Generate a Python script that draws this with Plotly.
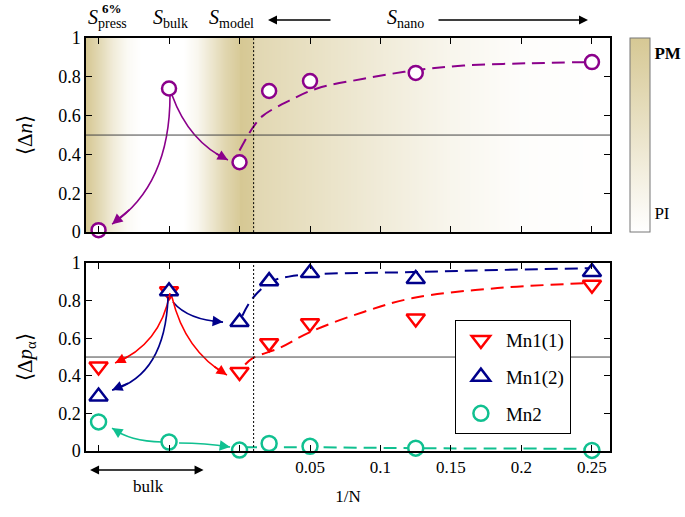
import plotly.graph_objects as go

# ---------------- data ----------------
x_pts = [-0.1, -0.05, 0.0, 0.021, 0.05, 0.125, 0.25]   # press, bulk, model, then 1/N (nano)
dn = [0.01, 0.74, 0.36, 0.727, 0.778, 0.82, 0.876]
mn1_1 = [0.45, 0.85, 0.42, 0.574, 0.68, 0.705, 0.885]
mn1_2 = [0.29, 0.85, 0.686, 0.904, 0.947, 0.915, 0.952]
mn2 = [0.155, 0.048, 0.005, 0.04, 0.025, 0.015, 0.003]

fit_n_x = [0.0, 0.0096, 0.0167, 0.036, 0.055, 0.088, 0.123, 0.159, 0.206, 0.25]
fit_n_y = [0.42, 0.54, 0.60, 0.68, 0.74, 0.79, 0.832, 0.858, 0.87, 0.876]
fit_p1_x = [0.004, 0.0096, 0.029, 0.05, 0.088, 0.123, 0.183, 0.25]
fit_p1_y = [0.46, 0.495, 0.55, 0.633, 0.74, 0.814, 0.867, 0.894]
fit_p2_x = [0.002, 0.009, 0.022, 0.035, 0.05, 0.123, 0.183, 0.25]
fit_p2_y = [0.72, 0.81, 0.90, 0.928, 0.94, 0.952, 0.963, 0.973]
fit_m2_x = [0.003, 0.05, 0.125, 0.25]
fit_m2_y = [0.02, 0.02, 0.015, 0.012]

# background phase map (PI -> PM intensity)
bg_x = [-0.109, -0.1, -0.09, -0.08, -0.07, -0.04, -0.03, -0.02, -0.01, -0.0005,
        0.0005, 0.009, 0.011, 0.05, 0.1, 0.15, 0.2, 0.263]
bg_z = [1.0, 0.7, 0.35, 0.1, 0.0, 0.0, 0.15, 0.45, 0.75, 0.95,
        1.0, 0.95, 0.72, 0.56, 0.36, 0.17, 0.04, 0.0]

x_tickvals = [-0.1, -0.05, 0.0, 0.05, 0.1, 0.15, 0.2, 0.25]
x_ticktext = ["", "", "", "0.05", "0.1", "0.15", "0.2", "0.25"]
y_tickvals = [0, 0.2, 0.4, 0.6, 0.8, 1]

# ---------------- style ----------------
FONT = "Times New Roman, Liberation Serif, serif"
PURPLE = "#8B008B"
RED = "#FF0000"
BLUE = "#00008B"
GREEN = "#10C090"
TAN = "#D6C894"

fig = go.Figure()

fig.add_trace(go.Heatmap(
    x=bg_x, y=[0, 1], z=[bg_z, bg_z], zmin=0, zmax=1, zsmooth="best",
    colorscale=[[0, "#FFFFFF"], [1, TAN]], xaxis="x", yaxis="y",
    hoverinfo="skip", showscale=True,
    colorbar=dict(
        x=1.038, xanchor="left", y=1.0, yanchor="top", len=194 / 413, lenmode="fraction",
        xpad=0, ypad=0,
        thickness=20, outlinecolor="#777", outlinewidth=1, ticks="",
        tickvals=[0.92, 0.1], ticktext=["<b>PM</b>", "PI"],
        tickfont=dict(family=FONT, size=17, color="black"),
    ),
))

def marker(sym, col, size):
    return dict(symbol=sym, size=size, color="white", line=dict(color=col, width=2.5))

DASH = "13px,7px"

# top panel
fig.add_trace(go.Scatter(x=fit_n_x, y=fit_n_y, mode="lines", line=dict(color=PURPLE, width=2, dash=DASH, shape="spline"),
                         xaxis="x", yaxis="y", showlegend=False, cliponaxis=False))
fig.add_trace(go.Scatter(x=x_pts, y=dn, mode="markers", marker=marker("circle", PURPLE, 14),
                         xaxis="x", yaxis="y", showlegend=False, cliponaxis=False))

# bottom panel
fig.add_trace(go.Scatter(x=fit_p1_x, y=fit_p1_y, mode="lines", line=dict(color=RED, width=2, dash=DASH, shape="spline"),
                         xaxis="x2", yaxis="y2", showlegend=False, cliponaxis=False))
fig.add_trace(go.Scatter(x=fit_p2_x, y=fit_p2_y, mode="lines", line=dict(color=BLUE, width=2, dash=DASH, shape="spline"),
                         xaxis="x2", yaxis="y2", showlegend=False, cliponaxis=False))
fig.add_trace(go.Scatter(x=fit_m2_x, y=fit_m2_y, mode="lines", line=dict(color=GREEN, width=2, dash=DASH, shape="spline"),
                         xaxis="x2", yaxis="y2", showlegend=False, cliponaxis=False))
fig.add_trace(go.Scatter(x=x_pts, y=mn1_1, mode="markers", name="Mn1(1)", legendgroup="a",
                         marker=marker("triangle-down", RED, 16), xaxis="x2", yaxis="y2", cliponaxis=False))
fig.add_trace(go.Scatter(x=x_pts, y=mn1_2, mode="markers", name="Mn1(2)", legendgroup="b",
                         marker=marker("triangle-up", BLUE, 16), xaxis="x2", yaxis="y2", cliponaxis=False))
fig.add_trace(go.Scatter(x=x_pts, y=mn2, mode="markers", name="Mn2", legendgroup="c",
                         marker=marker("circle", GREEN, 15), xaxis="x2", yaxis="y2", cliponaxis=False))

# ---------------- curved arrows (quadratic bezier: start, control, end) ----------------
arrows = [
    ("x", "y", PURPLE, (-0.0493, 0.706), (-0.0493, 0.242), (-0.0904, 0.041)),
    ("x", "y", PURPLE, (-0.0479, 0.706), (-0.0358, 0.464), (-0.0082, 0.371)),
    ("x2", "y2", RED, (-0.0493, 0.840), (-0.0564, 0.564), (-0.0883, 0.468)),
    ("x2", "y2", BLUE, (-0.0507, 0.819), (-0.0528, 0.404), (-0.0904, 0.324)),
    ("x2", "y2", BLUE, (-0.0472, 0.793), (-0.0365, 0.697), (-0.0117, 0.686)),
    ("x2", "y2", RED, (-0.0479, 0.819), (-0.0387, 0.532), (-0.0089, 0.404)),
    ("x2", "y2", GREEN, (-0.0550, 0.048), (-0.0780, 0.052), (-0.0904, 0.122)),
    ("x2", "y2", GREEN, (-0.0429, 0.0426), (-0.0245, 0.0426), (-0.0067, 0.0213)),
]
shapes = []
annotations = []
for xr, yr, col, p0, c, p1 in arrows:
    shapes.append(dict(type="path", xref=xr, yref=yr,
                       path=f"M {p0[0]},{p0[1]} Q {c[0]},{c[1]} {p1[0]},{p1[1]}",
                       line=dict(color=col, width=1.6), layer="above"))
    t = 0.82
    tx = (1 - t) ** 2 * p0[0] + 2 * (1 - t) * t * c[0] + t ** 2 * p1[0]
    ty = (1 - t) ** 2 * p0[1] + 2 * (1 - t) * t * c[1] + t ** 2 * p1[1]
    annotations.append(dict(x=p1[0], y=p1[1], ax=tx, ay=ty, xref=xr, yref=yr, axref=xr, ayref=yr,
                            text="", showarrow=True, arrowhead=2, arrowsize=1.3, arrowwidth=1.6,
                            arrowcolor=col, standoff=0))

# reference lines
for yr in ["y", "y2"]:
    shapes.append(dict(type="line", xref="paper", yref=yr, x0=0, x1=1, y0=0.5, y1=0.5,
                       line=dict(color="#444", width=1), layer="above"))
for xr, yr in [("x", "y"), ("x2", "y2")]:
    shapes.append(dict(type="line", xref=xr, yref=yr, x0=0.01, x1=0.01, y0=0, y1=1,
                       line=dict(color="black", width=1, dash="2px,2px"), layer="above"))

# top labels
lab_font = dict(family=FONT, size=20, color="black")
for xx, txt in [(-0.094, "<i>S</i><sub>press</sub>"), (-0.0493, "<i>S</i><sub>bulk</sub>"),
                (-0.006, "<i>S</i><sub>model</sub>"), (0.1174, "<i>S</i><sub>nano</sub>")]:
    annotations.append(dict(x=xx, y=1.048, xref="x", yref="paper", text=txt, showarrow=False,
                            font=lab_font, xanchor="center", yanchor="middle"))
annotations.append(dict(x=-0.0904, y=1.072, xref="x", yref="paper", text="<b>6%</b>", showarrow=False,
                        font=dict(family=FONT, size=13, color="black"), xanchor="center", yanchor="middle"))
annotations.append(dict(x=0.0202, y=1.0436, xref="x", yref="paper", ax=64, ay=0, text="", showarrow=True,
                        arrowhead=2, arrowsize=1.2, arrowwidth=1.5, arrowcolor="black"))
annotations.append(dict(x=0.2472, y=1.0436, xref="x", yref="paper", ax=-151, ay=0, text="", showarrow=True,
                        arrowhead=2, arrowsize=1.2, arrowwidth=1.5, arrowcolor="black"))
# bulk arrow
annotations.append(dict(x=-0.106, y=-0.046, xref="x2", yref="paper", ax=115, ay=0, text="", showarrow=True,
                        arrowhead=2, arrowside="end+start", arrowsize=1.2, arrowwidth=1.5, arrowcolor="black"))
annotations.append(dict(x=-0.0649, y=-0.087, xref="x2", yref="paper", text="bulk", showarrow=False,
                        font=dict(family=FONT, size=17, color="black"), xanchor="center", yanchor="middle"))

axis_common = dict(showline=True, linecolor="black", linewidth=1.5, mirror="ticks", ticks="inside",
                   ticklen=6, tickwidth=1, tickcolor="black", showgrid=False, zeroline=False,
                   automargin=False)
xr_range = [-0.1089, 0.2628]

fig.update_layout(
    width=685, height=517,
    margin=dict(l=86, r=75, t=38, b=66, autoexpand=False),
    paper_bgcolor="white", plot_bgcolor="white",
    font=dict(family=FONT, color="black"),
    xaxis=dict(domain=[0, 1], anchor="y", range=xr_range, tickvals=x_tickvals, showticklabels=False, **axis_common),
    yaxis=dict(domain=[0.530, 1], anchor="x", range=[0, 1], tickvals=y_tickvals,
               tickfont=dict(family=FONT, size=18),
               title=dict(text="⟨Δ<i>n</i>⟩", font=dict(family=FONT, size=21), standoff=20), **axis_common),
    xaxis2=dict(domain=[0, 1], anchor="y2", range=xr_range, tickvals=x_tickvals, ticktext=x_ticktext,
                tickfont=dict(family=FONT, size=17),
                title=dict(text="1/N", font=dict(family=FONT, size=17), standoff=14), **axis_common),
    yaxis2=dict(domain=[0, 0.455], anchor="x2", range=[0, 1], tickvals=y_tickvals,
                tickfont=dict(family=FONT, size=18),
                title=dict(text="⟨Δ<i>p</i><sub>α</sub>⟩", font=dict(family=FONT, size=21), standoff=20), **axis_common),
    legend=dict(x=0.704, y=0.317, xanchor="left", yanchor="top", bgcolor="white",
                bordercolor="black", borderwidth=1, font=dict(family=FONT, size=19),
                tracegroupgap=9, itemwidth=40),
    shapes=shapes,
    annotations=annotations,
)

# remove the browser's default 8px page margin so the figure sits at the window origin
fig.write_html("out.html", config={"displayModeBar": False},
               post_script="document.body.style.margin='0px';")
